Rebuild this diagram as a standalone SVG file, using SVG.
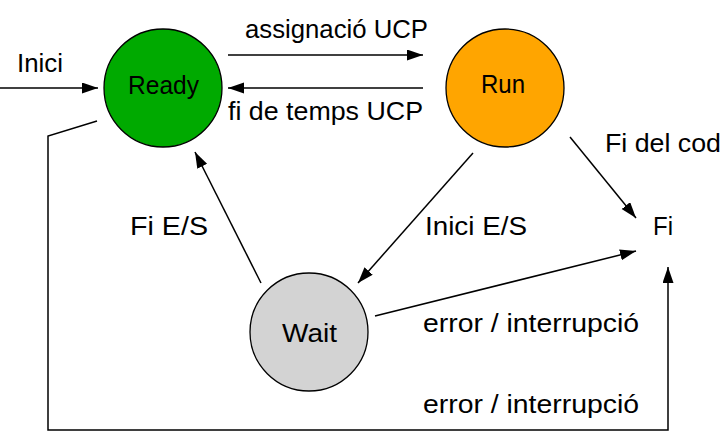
<svg xmlns="http://www.w3.org/2000/svg" width="721" height="442" viewBox="0 0 721 442">
<style>
.t{font-family:"Liberation Sans",Arial,sans-serif;font-size:26px;fill:#000}
.n{stroke:#000;stroke-width:1.3}
.c{fill:none;stroke:#000;stroke-width:1.5}
</style>
<defs>
<marker id="ah" markerUnits="userSpaceOnUse" markerWidth="18" markerHeight="12" refX="16" refY="5.5" orient="auto">
<path d="M0,0 L16,5.5 L0,11 Z" fill="#000"/>
</marker>
</defs>
<rect width="721" height="442" fill="#fff"/>
<g id="connectors">
<line class="c" x1="0" y1="88" x2="98" y2="88" marker-end="url(#ah)"/>
<line class="c" x1="228" y1="55" x2="423" y2="55" marker-end="url(#ah)"/>
<line class="c" x1="423" y1="88" x2="228" y2="88" marker-end="url(#ah)"/>
<polyline class="c" points="97,121 48,136 48,430 668,430 668,267" marker-end="url(#ah)"/>
<line class="c" x1="261" y1="283" x2="195" y2="152" marker-end="url(#ah)"/>
<line class="c" x1="473" y1="153" x2="358" y2="283" marker-end="url(#ah)"/>
<line class="c" x1="570" y1="137" x2="636" y2="218" marker-end="url(#ah)"/>
<line class="c" x1="375" y1="316" x2="636" y2="251" marker-end="url(#ah)"/>
<text class="t" x="17" y="72" textLength="46" lengthAdjust="spacingAndGlyphs">Inici</text>
<text class="t" x="245" y="38" textLength="183" lengthAdjust="spacingAndGlyphs">assignació UCP</text>
<text class="t" x="228" y="120" textLength="195" lengthAdjust="spacingAndGlyphs">fi de temps UCP</text>
<text class="t" x="605" y="152" textLength="116" lengthAdjust="spacingAndGlyphs">Fi del cod</text>
<text class="t" x="130" y="235" textLength="78" lengthAdjust="spacingAndGlyphs">Fi E/S</text>
<text class="t" x="425" y="235" textLength="102" lengthAdjust="spacingAndGlyphs">Inici E/S</text>
<text class="t" x="423" y="332" textLength="216" lengthAdjust="spacingAndGlyphs">error / interrupció</text>
<text class="t" x="423" y="413" textLength="216" lengthAdjust="spacingAndGlyphs">error / interrupció</text>
</g>
<g id="ready">
<circle class="n" cx="163" cy="88" r="59" fill="#00aa00"/>
<text class="t" x="128" y="94" textLength="71" lengthAdjust="spacingAndGlyphs">Ready</text>
</g>
<g id="run">
<circle class="n" cx="505" cy="88" r="59" fill="#ffa500"/>
<text class="t" x="481" y="93" textLength="44" lengthAdjust="spacingAndGlyphs">Run</text>
</g>
<g id="wait">
<circle class="n" cx="309" cy="332" r="59" fill="#d3d3d3"/>
<text class="t" x="282" y="342" textLength="55" lengthAdjust="spacingAndGlyphs">Wait</text>
</g>
<g id="fi">
<text class="t" x="653" y="235" textLength="20" lengthAdjust="spacingAndGlyphs">Fi</text>
</g>
</svg>
